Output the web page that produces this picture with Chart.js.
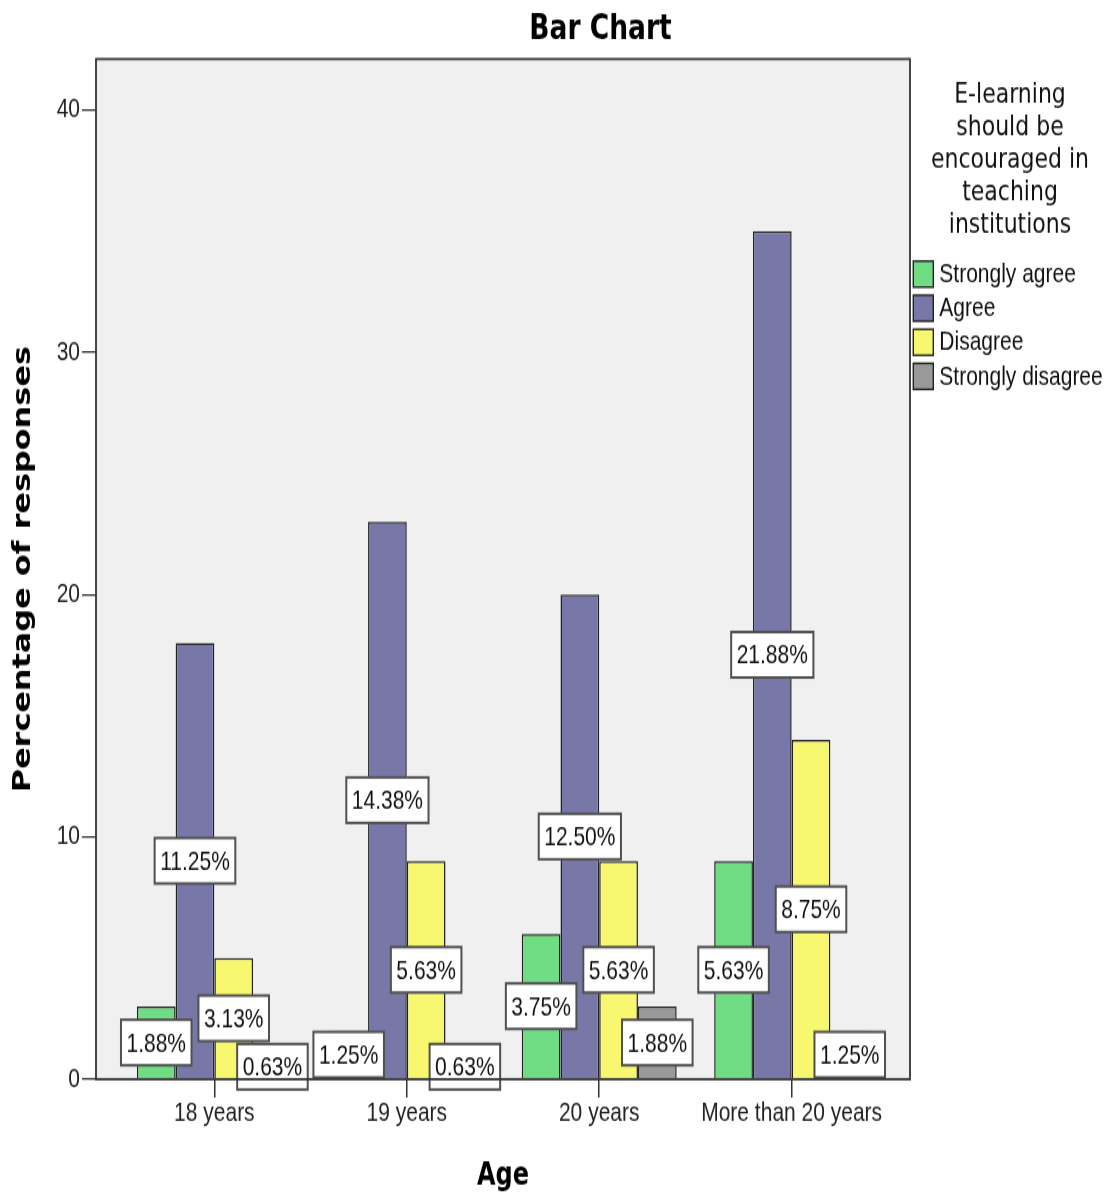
<!DOCTYPE html>
<html>
<head>
<meta charset="utf-8">
<title>Bar Chart</title>
<script src="https://cdn.jsdelivr.net/npm/chart.js@4/dist/chart.umd.min.js"></script>
<style>
  html, body { margin: 0; padding: 0; background: #ffffff; }
  /* drawing buffer is 1113x919, shown 1.3x taller like the original export */
  #chart { display: block; width: 1113px !important; height: 1195px !important; }
</style>
</head>
<body>
<canvas id="chart" width="1113" height="919" style="width:1113px;height:1195px"></canvas>
<script>
// ---- data ----
const ageLabels = ['18 years', '19 years', '20 years', 'More than 20 years'];
const responseLabels = ['Strongly agree', 'Agree', 'Disagree', 'Strongly disagree'];
const stronglyAgree = [3, 2, 6, 9];
const agree = [18, 23, 20, 35];
const disagree = [5, 9, 9, 14];
const stronglyDisagree = [1, 1, 3, 2];
const yTicks = [0, 10, 20, 30, 40];
const legendTitle = ['E-learning', 'should be', 'encouraged in', 'teaching', 'institutions'];
const chartTitle = 'Bar Chart';
const xTitle = 'Age';
const yTitle = 'Percentage of responses';
const seriesColors = ['#70dc84', '#7878a8', '#f8f870', '#999999'];

// ---- derived ----
const seriesValues = [stronglyAgree, agree, disagree, stronglyDisagree];
const totalResponses = seriesValues.flat().reduce((a, b) => a + b, 0);
// share of all responses, rounded half-up to two decimals
const pct = (v) => (Math.round(v * 10000 / totalResponses) / 100).toFixed(2) + '%';

const SANS = '"Liberation Sans", Arial, sans-serif';
const WIDE = '"DejaVu Sans", Verdana, sans-serif';

const datasets = seriesValues.map((vals, s) => ({
  label: responseLabels[s],
  data: vals.map((v, i) => ({ x: i, y: v })),
  backgroundColor: seriesColors[s],
  borderColor: '#222222',
  borderWidth: 1.5,
  categoryPercentage: 0.805,
  barPercentage: 1
}));

// grey plot background
const plotBackground = {
  id: 'plotBackground',
  beforeDraw(chart) {
    const { ctx, chartArea: a } = chart;
    ctx.save();
    ctx.fillStyle = '#ffffff';
    ctx.fillRect(0, 0, chart.width, chart.height);
    ctx.fillStyle = '#f0f0f0';
    ctx.fillRect(a.left, a.top, a.right - a.left, a.bottom - a.top);
    ctx.restore();
  }
};

// percentage boxes in the middle of every bar
const barLabels = {
  id: 'barLabels',
  afterDatasetsDraw(chart) {
    const ctx = chart.ctx;
    ctx.save();
    ctx.font = '21px ' + SANS;
    ctx.textAlign = 'center';
    ctx.textBaseline = 'middle';
    chart.data.datasets.forEach((ds, di) => {
      const meta = chart.getDatasetMeta(di);
      meta.data.forEach((bar, i) => {
        const text = pct(ds.data[i].y);
        const cx = bar.x;
        const cy = (bar.y + bar.base) / 2;
        const w = ctx.measureText(text).width + 11;
        const h = 35;
        ctx.fillStyle = '#ffffff';
        ctx.fillRect(cx - w / 2, cy - h / 2, w, h);
        ctx.strokeStyle = '#505050';
        ctx.lineWidth = 2;
        ctx.strokeRect(cx - w / 2, cy - h / 2, w, h);
        ctx.fillStyle = '#111111';
        ctx.fillText(text, cx, cy + 1);
      });
    });
    ctx.restore();
  }
};

// plot frame, chart title and legend
const frameTitleLegend = {
  id: 'frameTitleLegend',
  afterDraw(chart) {
    const { ctx, chartArea: a } = chart;
    ctx.save();
    ctx.strokeStyle = '#333333';
    ctx.lineWidth = 1.8;
    ctx.strokeRect(a.left, a.top, a.right - a.left, a.bottom - a.top);

    ctx.fillStyle = '#000000';
    ctx.textAlign = 'center';
    ctx.textBaseline = 'alphabetic';
    ctx.font = 'bold 26.5px ' + WIDE;
    ctx.fillText(chartTitle, 600.5, 29.5);

    const lx = a.right;
    ctx.font = '22px ' + WIDE;
    ctx.fillStyle = '#111111';
    legendTitle.forEach((line, i) => ctx.fillText(line, lx + 100, 79.3 + i * 24.8));

    ctx.font = '21px ' + SANS;
    ctx.textAlign = 'left';
    ctx.textBaseline = 'middle';
    chart.data.datasets.forEach((ds, i) => {
      const cy = 210.8 + i * 26.2;
      ctx.fillStyle = ds.backgroundColor;
      ctx.fillRect(lx + 3.3, cy - 10, 20, 20);
      ctx.strokeStyle = '#222222';
      ctx.lineWidth = 1.4;
      ctx.strokeRect(lx + 3.3, cy - 10, 20, 20);
      ctx.fillStyle = '#111111';
      ctx.fillText(ds.label, lx + 29.3, cy + 0.5);
    });
    ctx.restore();
  }
};

new Chart(document.getElementById('chart'), {
  type: 'bar',
  data: { datasets },
  options: {
    responsive: false,
    devicePixelRatio: 1,
    animation: false,
    events: [],
    layout: { padding: { left: 0, top: 45.4, right: 203, bottom: 0 } },
    plugins: {
      legend: { display: false },
      title: { display: false },
      tooltip: { enabled: false }
    },
    scales: {
      x: {
        type: 'linear',
        min: -0.615,
        max: 3.615,
        offset: false,
        afterBuildTicks: (scale) => { scale.ticks = ageLabels.map((_, i) => ({ value: i })); },
        afterFit: (scale) => { scale.height = 89; },
        grid: { display: true, drawOnChartArea: false, drawTicks: true, tickLength: 14, color: '#333333', lineWidth: 1.5, offset: false },
        border: { display: false },
        ticks: {
          callback: (v) => ageLabels[v],
          autoSkip: false,
          maxRotation: 0,
          minRotation: 0,
          padding: 0,
          color: '#222222',
          font: { family: SANS, size: 21 }
        },
        title: {
          display: true,
          text: xTitle,
          color: '#000000',
          font: { family: WIDE, size: 24, weight: 'bold' },
          padding: { top: 0, bottom: 0 }
        }
      },
      y: {
        min: 0,
        max: 42.1,
        afterBuildTicks: (scale) => { scale.ticks = yTicks.map((v) => ({ value: v })); },
        afterFit: (scale) => { scale.width = 96; },
        grid: { display: true, drawOnChartArea: false, drawTicks: true, tickLength: 14, color: '#333333', lineWidth: 1.3 },
        border: { display: false },
        ticks: { padding: 2, color: '#222222', font: { family: SANS, size: 21 } },
        title: {
          display: true,
          text: yTitle,
          color: '#000000',
          font: { family: WIDE, size: 24.5, weight: 'bold' },
          padding: { top: 9.3, bottom: 0 }
        }
      }
    }
  },
  plugins: [plotBackground, barLabels, frameTitleLegend]
});
</script>
</body>
</html>
